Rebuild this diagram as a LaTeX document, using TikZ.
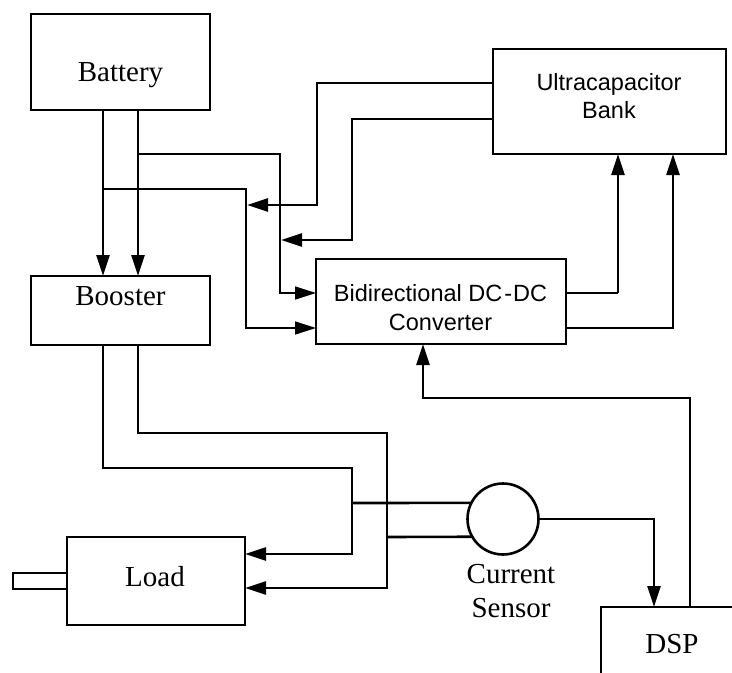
\documentclass[tikz,border=0pt]{standalone}
\usepackage{fontspec}
\setmainfont{Liberation Serif}
\newfontfamily\arialf{Liberation Sans}
\usetikzlibrary{arrows.meta,calc}
\begin{document}
\begin{tikzpicture}[x=1bp,y=-1bp,
 box/.style={draw,line width=2.6bp,inner sep=0pt,outer sep=0pt},
 thk/.style={line width=2.6bp},
 thn/.style={line width=1.5bp},
 arr/.style={-{Triangle[length=21bp,width=13bp]}},
 serif/.style={font=\fontsize{29bp}{33bp}\selectfont,anchor=base,inner sep=0pt},
 sans/.style={font=\arialf\fontsize{23.5bp}{27bp}\selectfont,anchor=base,inner sep=0pt}]
\useasboundingbox (0,0) rectangle (732,673);
% boxes
\node[box,minimum width=179bp,minimum height=96bp] (bat) at (120.5,62) {};
\node[box,minimum width=179bp,minimum height=69bp] (boost) at (120.5,310.5) {};
\node[box,minimum width=233bp,minimum height=105bp] (ucap) at (609.5,101.5) {};
\node[box,minimum width=250bp,minimum height=85bp] (conv) at (441,301.5) {};
\node[box,minimum width=178bp,minimum height=88bp] (load) at (156,581) {};
\node[box,minimum width=54bp,minimum height=16bp] (shaft) at (40,581) {};
\node[box,circle,minimum size=71bp] (sens) at (503,519) {};
\coordinate (dspc) at (601,607);
\draw[thk] (601,673) -- (dspc) -- (732,607);
% texts
\node[serif] (tbat) at (120.5,82) {Battery};
\node[serif] (tboost) at (120.5,305) {Booster};
\node[serif] (tload) at (155,586) {Load};
\node[serif] (tcur) at (511,583) {Current};
\node[serif] (tsen) at (511,617) {Sensor};
\node[serif] (tdsp) at (672,653) {DSP};
\node[sans] (tu1) at (609,91) {Ultracapacitor};
\node[sans] (tu2) at (609,119) {Bank};
\node[sans] (tc1) at (440.5,301) {Bidirectional DC\hspace{2bp}-\hspace{1bp}DC};
\node[sans] (tc2) at (440.5,330) {Converter};
% helper coordinates
\coordinate (xa) at (103,0);
\coordinate (xb) at (138,0);
\coordinate (j1) at (138,154);
\coordinate (j2) at (103,189);
\coordinate (ya) at (0,293);
\coordinate (yb) at (0,328);
\coordinate (u1) at (0,83);
\coordinate (u2) at (0,119);
\coordinate (k1) at (247,205);
\coordinate (k2) at (281,240);
\coordinate (c1) at (618,293);
\coordinate (xq) at (673,0);
\coordinate (d1) at (690,607);
\coordinate (xr) at (423,0);
\coordinate (yc) at (0,588);
\coordinate (yd) at (0,554);
\coordinate (xs) at (654,0);
% battery -> booster
\draw[thk,arr] (bat.south -| xa) -- (boost.north -| xa);
\draw[thk,arr] (bat.south -| xb) -- (boost.north -| xb);
% battery branches -> converter
\draw[thn,arr] (j1) -- (280,154) -- (280,293) -- (conv.west |- ya);
\draw[thn,arr] (j2) -- (246,189) -- (246,328) -- (conv.west |- yb);
% ultracap -> branches
\draw[thk,arr] (ucap.west |- u1) -- (317,83) -- (317,205) -- (k1);
\draw[thk,arr] (ucap.west |- u2) -- (352,119) -- (352,240) -- (k2);
% converter -> ultracap
\draw[thn] (conv.east |- ya) -- (c1);
\draw[thk,arr] (c1) -- (ucap.south -| c1);
\draw[thk,arr] (conv.east |- yb) -- (673,328) -- (ucap.south -| xq);
% DSP -> converter
\draw[thk,arr] (d1) -- (690,398) -- (423,398) -- (conv.south -| xr);
% booster -> load
\draw[thk,arr] (boost.south -| xb) -- (138,433) -- (387,433) -- (387,588) -- (load.east |- yc);
\draw[thk,arr] (boost.south -| xa) -- (103,468) -- (352,468) -- (352,554) -- (load.east |- yd);
% current sensor
\draw[thk] (352,503) -- (sens.153.2);
\draw[thk] (387,537) -- (sens.210.5);
\draw[thk,arr] (sens.east) -- (654,519) -- (dspc -| xs);
\end{tikzpicture}
\end{document}
